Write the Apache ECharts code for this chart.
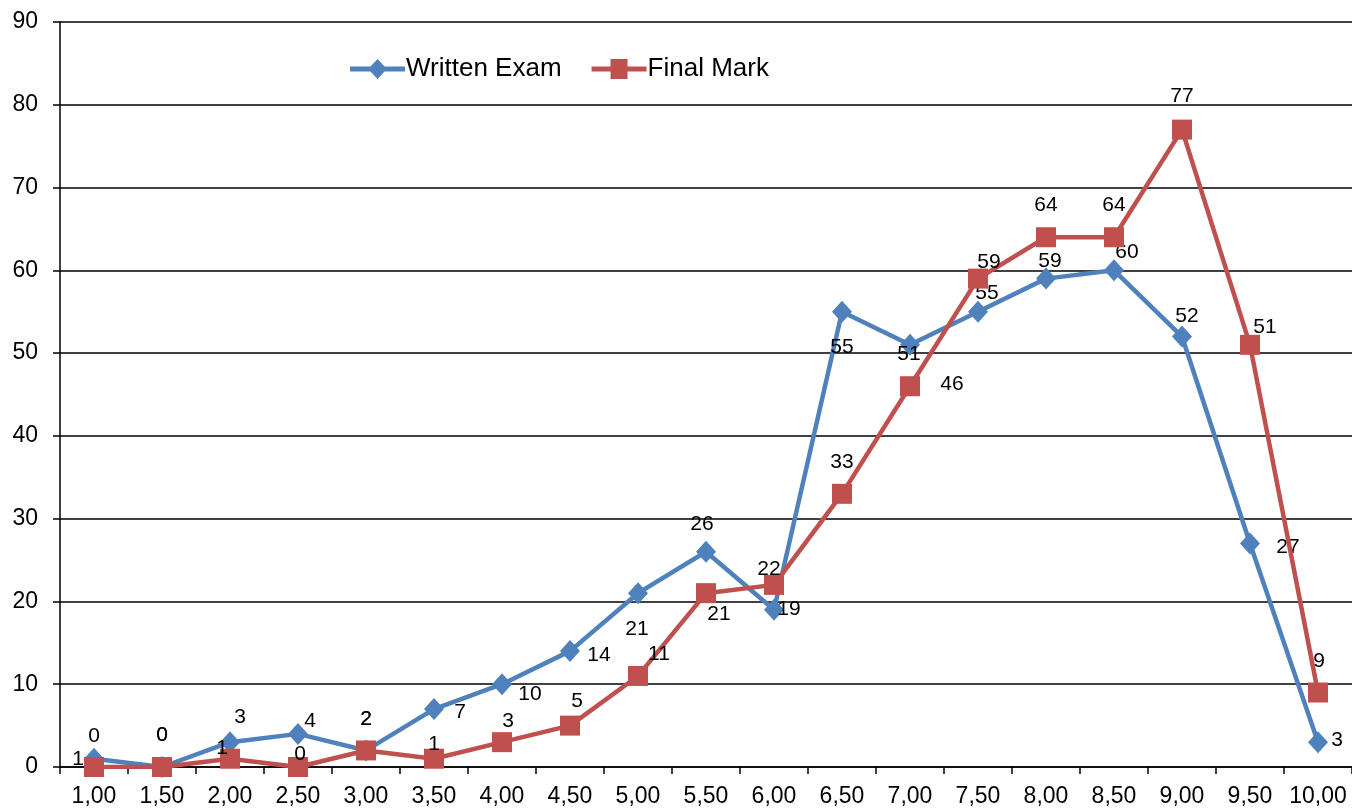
<!DOCTYPE html>
<html>
<head>
<meta charset="utf-8">
<script src="https://cdn.jsdelivr.net/npm/echarts@6/dist/echarts.min.js"></script>
<style>
html,body{margin:0;padding:0;background:#fff;}
#chart{width:1352px;height:808px;}
</style>
</head>
<body>
<div id="chart"></div>
<script>
const categories = ['1,00','1,50','2,00','2,50','3,00','3,50','4,00','4,50','5,00','5,50','6,00','6,50','7,00','7,50','8,00','8,50','9,00','9,50','10,00'];
const writtenExam = [1,0,3,4,2,7,10,14,21,26,19,55,51,55,59,60,52,27,3];
const finalMark = [0,0,1,0,2,1,3,5,11,21,22,33,46,59,64,64,77,51,9];
const seriesNames = ['Written Exam','Final Mark'];
const yTicks = {min:0, max:90, interval:10};

// label offsets (style only) relative to point centre
const writtenOffsets = [[-16,0],[0,-32],[10,-25],[12,-13],[0,-31],[26,3],[28,10],[29,4],[-1,36],[-4,-28],[15,-1],[0,35],[-1,9],[9,-19],[4,-17],[13,-18],[5,-20],[38,4],[19,-2]];
const finalOffsets = [[0,-31],[0,-32],[-8,-11],[2,-13],[0,-31],[0,-15],[6,-21],[7,-24],[21,-22],[13,21],[-5,-16],[0,-32],[42,-2],[11,-16],[0,-32],[0,-32],[0,-33],[15,-18],[1,-31]];

const FONT = 'Liberation Sans, Arial, sans-serif';
const BLUE = '#4F81BD', RED = '#C0504D';
const ICON_DIAMOND = 'path://M0,7.5H20.5L27.5,0L34.5,7.5H55V12.5H34.5L27.5,20L20.5,12.5H0Z';
const ICON_SQUARE = 'path://M0,7.5H19V0H36V7.5H55V12.5H36V20H19V12.5H0Z';

function withLabels(values, offsets){
  return values.map((v,i)=>({
    value: v,
    label: {show:true, position:'inside', offset: offsets[i], color:'#000', fontSize:21, fontFamily:FONT}
  }));
}

const chart = echarts.init(document.getElementById('chart'));
chart.setOption({
  animation:false,
  backgroundColor:'#fff',
  legend:{
    left:345, top:51,
    itemWidth:55, itemHeight:20, itemGap:30,
    textStyle:{fontSize:26, fontFamily:FONT, color:'#000', padding:[0,0,0,-4]},
    data: [
      {name:seriesNames[0], icon:ICON_DIAMOND, itemStyle:{color:BLUE, borderWidth:0}},
      {name:seriesNames[1], icon:ICON_SQUARE, itemStyle:{color:RED, borderWidth:0}}
    ]
  },
  grid:{left:60, right:0, top:22, bottom:40, containLabel:false},
  xAxis:{
    type:'category',
    data:categories,
    boundaryGap:true,
    axisLine:{lineStyle:{color:'#000', width:1.5}},
    axisTick:{show:true, interval:0, length:7, lineStyle:{color:'#000', width:1.5}},
    axisLabel:{interval:0, color:'#000', fontSize:23, fontFamily:FONT, margin:18}
  },
  yAxis:{
    type:'value',
    min:yTicks.min, max:yTicks.max, interval:yTicks.interval,
    axisLine:{show:true, lineStyle:{color:'#000', width:1.5}},
    axisTick:{show:true, length:7, lineStyle:{color:'#000', width:1.5}},
    splitLine:{show:true, lineStyle:{color:'#000', width:1.5}},
    axisLabel:{color:'#000', fontSize:23, fontFamily:FONT, margin:22}
  },
  series:[
    {
      name:seriesNames[0], type:'line',
      data: withLabels(writtenExam, writtenOffsets),
      symbol:'diamond', symbolSize:[20,22],
      lineStyle:{color:BLUE, width:4.5},
      itemStyle:{color:BLUE},
      z:2
    },
    {
      name:seriesNames[1], type:'line',
      data: withLabels(finalMark, finalOffsets),
      symbol:'rect', symbolSize:20,
      lineStyle:{color:RED, width:4.5},
      itemStyle:{color:RED},
      z:3
    }
  ]
});
</script>
</body>
</html>
